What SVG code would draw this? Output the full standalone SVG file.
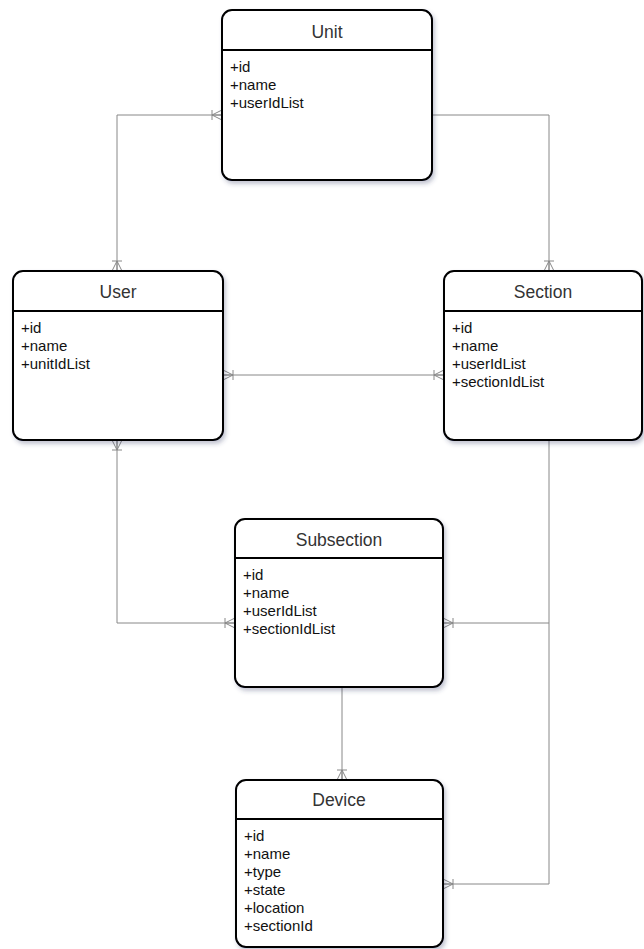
<svg xmlns="http://www.w3.org/2000/svg" width="644" height="949" viewBox="0 0 644 949">
  <style>
    .box { fill: #ffffff; stroke: #000000; stroke-width: 2; }
    .sep { stroke: #000000; stroke-width: 2; }
    .title { font-family: "Liberation Sans", Arial, sans-serif; font-size: 17.5px; fill: #333333; text-anchor: middle; }
    .attr { font-family: "Liberation Sans", Arial, sans-serif; font-size: 15px; fill: #111111; }
    .link { fill: none; stroke: #888888; stroke-width: 1; }
  </style>
  <defs>
    <filter id="shadow" x="-10%" y="-10%" width="130%" height="130%">
      <feDropShadow dx="2" dy="3" stdDeviation="2" flood-color="#3a3f6b" flood-opacity="0.3"/>
    </filter>
    <!-- one-or-many crow's foot with bar; tip sits on the entity border -->
    <marker id="many" viewBox="0 0 14 14" markerWidth="14" markerHeight="14" refX="12" refY="7" orient="auto-start-reverse" markerUnits="userSpaceOnUse">
      <path d="M2,2 V12 M2,7 L12,2 M2,7 L12,7 M2,7 L12,12" fill="none" stroke="#888888" stroke-width="1"/>
    </marker>
  </defs>

  <g id="connectors">
    <path class="link" d="M222,115 H117 V271" marker-start="url(#many)" marker-end="url(#many)"/>
    <path class="link" d="M432,115 H549 V271" marker-end="url(#many)"/>
    <path class="link" d="M223,375 H444" marker-start="url(#many)" marker-end="url(#many)"/>
    <path class="link" d="M117,440 V623 H235" marker-start="url(#many)" marker-end="url(#many)"/>
    <path class="link" d="M549,440 V623 H443" marker-end="url(#many)"/>
    <path class="link" d="M549,623 V884 H443" marker-end="url(#many)"/>
    <path class="link" d="M342,687 V780" marker-end="url(#many)"/>
  </g>

  <g id="unit">
    <rect class="box" x="222" y="10" width="210" height="170" rx="10" filter="url(#shadow)"/>
    <line class="sep" x1="222" y1="50" x2="432" y2="50"/>
    <text class="title" x="327" y="37.5">Unit</text>
    <text class="attr" x="230" y="72">+id</text>
    <text class="attr" x="230" y="90">+name</text>
    <text class="attr" x="230" y="108">+userIdList</text>
  </g>

  <g id="user">
    <rect class="box" x="13" y="271" width="210" height="169" rx="10" filter="url(#shadow)"/>
    <line class="sep" x1="13" y1="311" x2="223" y2="311"/>
    <text class="title" x="118" y="298">User</text>
    <text class="attr" x="21" y="333">+id</text>
    <text class="attr" x="21" y="351">+name</text>
    <text class="attr" x="21" y="369">+unitIdList</text>
  </g>

  <g id="section">
    <rect class="box" x="444" y="271" width="198" height="169" rx="10" filter="url(#shadow)"/>
    <line class="sep" x1="444" y1="311" x2="642" y2="311"/>
    <text class="title" x="543" y="298">Section</text>
    <text class="attr" x="452" y="333">+id</text>
    <text class="attr" x="452" y="351">+name</text>
    <text class="attr" x="452" y="369">+userIdList</text>
    <text class="attr" x="452" y="387">+sectionIdList</text>
  </g>

  <g id="subsection">
    <rect class="box" x="235" y="519" width="208" height="168" rx="10" filter="url(#shadow)"/>
    <line class="sep" x1="235" y1="558" x2="443" y2="558"/>
    <text class="title" x="339" y="546">Subsection</text>
    <text class="attr" x="243" y="580">+id</text>
    <text class="attr" x="243" y="598">+name</text>
    <text class="attr" x="243" y="616">+userIdList</text>
    <text class="attr" x="243" y="634">+sectionIdList</text>
  </g>

  <g id="device">
    <rect class="box" x="236" y="780" width="207" height="167" rx="10" filter="url(#shadow)"/>
    <line class="sep" x1="236" y1="819" x2="443" y2="819"/>
    <text class="title" x="339" y="806">Device</text>
    <text class="attr" x="244" y="841">+id</text>
    <text class="attr" x="244" y="859">+name</text>
    <text class="attr" x="244" y="877">+type</text>
    <text class="attr" x="244" y="895">+state</text>
    <text class="attr" x="244" y="913">+location</text>
    <text class="attr" x="244" y="931">+sectionId</text>
  </g>
</svg>
